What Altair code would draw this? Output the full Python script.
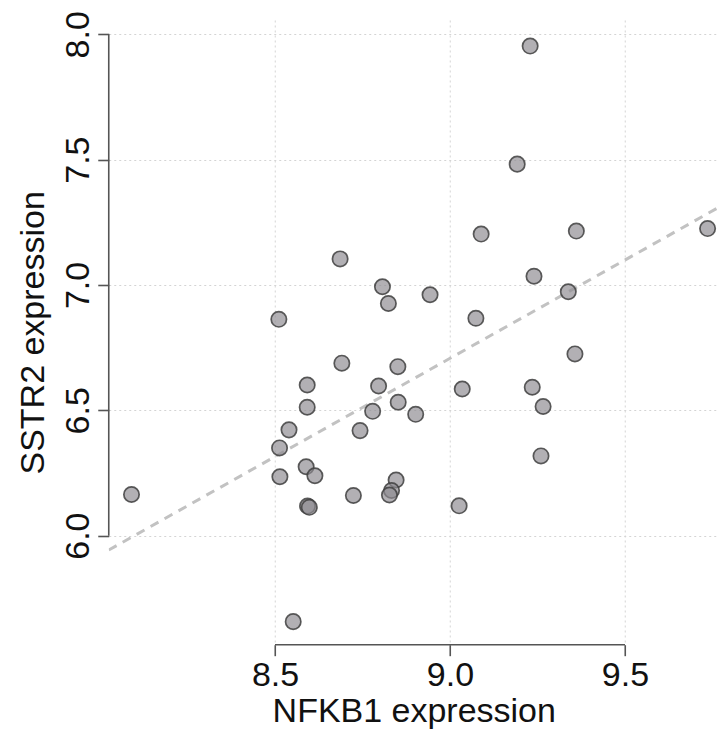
import altair as alt
import pandas as pd

# Values
nfkb1 = [9.229, 9.192, 9.089, 9.361, 9.736, 9.240, 9.338, 8.943, 8.807, 8.824,
         8.686, 8.511, 8.691, 8.851, 8.592, 8.796, 8.592, 8.852, 8.779, 8.902,
         8.540, 8.743, 8.513, 8.589, 8.614, 8.514, 8.090, 8.593, 8.598, 8.724,
         8.846, 8.833, 8.827, 8.552, 9.074, 9.357, 9.035, 9.235, 9.266, 9.260,
         9.026]
sstr2 = [7.953, 7.482, 7.203, 7.215, 7.225, 7.035, 6.973, 6.961, 6.993, 6.926,
         7.104, 6.863, 6.688, 6.674, 6.601, 6.597, 6.512, 6.532, 6.496, 6.484,
         6.422, 6.419, 6.350, 6.275, 6.239, 6.235, 6.164, 6.118, 6.113, 6.160,
         6.222, 6.180, 6.162, 5.657, 6.867, 6.725, 6.585, 6.592, 6.515, 6.318,
         6.119]
x_ticks = [8.5, 9.0, 9.5]
y_ticks = [6.0, 6.5, 7.0, 7.5, 8.0]
x_title = "NFKB1 expression"
y_title = "SSTR2 expression"

W = 610
H = 624.7
x_dom = [8.025, 8.025 + W / 350.0]
y_dom = [5.565, 8.057]

FONT = "Liberation Sans"
FS = 34

df = pd.DataFrame({"NFKB1": nfkb1, "SSTR2": sstr2})

xs = alt.Scale(domain=x_dom, nice=False, zero=False)
ys = alt.Scale(domain=y_dom, nice=False, zero=False)

common = dict(
    grid=True, gridDash=[2, 3], gridColor="#d4d4d4", gridWidth=1,
    domain=False, tickSize=11, tickColor="#555555", tickWidth=1.6,
    labelFontSize=FS, labelFont=FONT, labelColor="#111111",
    titleFontSize=FS, titleFont=FONT, titleFontWeight="normal",
    titleColor="#111111", format=".1f",
)
xaxis = alt.Axis(values=x_ticks, title=x_title, labelPadding=3,
                 titlePadding=2, **common)
yaxis = alt.Axis(values=y_ticks, title=y_title, labelAngle=270,
                 labelAlign="center", labelBaseline="bottom",
                 labelPadding=2, titlePadding=11, **common)

X = alt.X("NFKB1:Q", scale=xs, axis=xaxis)
Y = alt.Y("SSTR2:Q", scale=ys, axis=yaxis)

fit = alt.Chart(df).transform_regression(
    "NFKB1", "SSTR2", extent=x_dom
).mark_line(strokeDash=[9, 7], color="#c2c2c2", strokeWidth=3, clip=True).encode(
    x=X, y=Y
)

pts = alt.Chart(df).mark_point(
    shape="circle", filled=True, size=235, fill="#8e8b90", fillOpacity=0.68,
    stroke="#3f3f3f", strokeOpacity=0.85, strokeWidth=1.7
).encode(x=X, y=Y)

xr = pd.DataFrame({"NFKB1": [min(x_ticks)], "NFKB1_end": [max(x_ticks)]})
xline = alt.Chart(xr).mark_rule(color="#555555", strokeWidth=1.6).encode(
    x=X, x2=alt.X2("NFKB1_end:Q"), y=alt.value(H)
)
yr = pd.DataFrame({"SSTR2": [min(y_ticks)], "SSTR2_end": [max(y_ticks)]})
yline = alt.Chart(yr).mark_rule(color="#555555", strokeWidth=1.6).encode(
    y=Y, y2=alt.Y2("SSTR2_end:Q"), x=alt.value(0)
)

chart = alt.layer(fit, pts, xline, yline).properties(
    width=W, height=H, autosize="none",
    padding={"left": 100.75, "top": 12, "right": 0, "bottom": 85},
    background="white",
).configure_view(stroke=None)

chart.save("out.html", embed_options={"renderer": "svg", "actions": False})
